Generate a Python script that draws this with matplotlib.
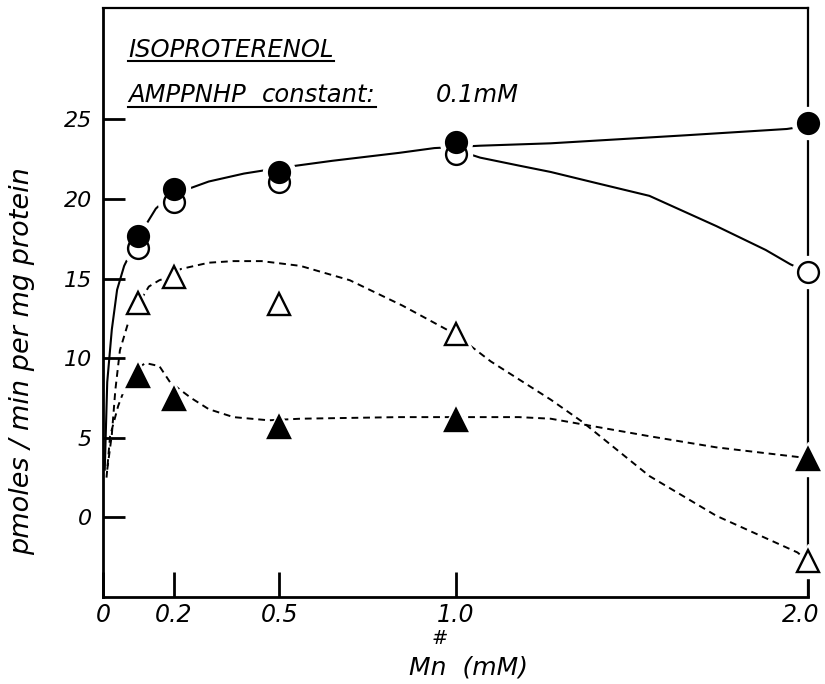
import numpy as np
import matplotlib
matplotlib.use("Agg")
import matplotlib.pyplot as plt
from matplotlib.lines import Line2D
from matplotlib.transforms import ScaledTranslation

plt.rcParams['font.family'] = ['DejaVu Sans']
plt.rcParams['font.style'] = 'italic'

# ---------------- data ----------------
conc = [0.1, 0.2, 0.5, 1.0, 2.0]                 # Mn (mM)
filled_circles = [17.7, 20.6, 21.7, 23.6, 24.8]
open_circles = [16.9, 19.8, 21.1, 22.8, 15.4]
open_triangles = [13.5, 15.1, 13.4, 11.5, -2.75]
filled_triangles = [8.9, 7.45, 5.7, 6.1, 3.7]

# hand-drawn fitted curves
fit_fc_x = [0.005, 0.012, 0.025, 0.04, 0.06, 0.1, 0.15, 0.2, 0.25, 0.3, 0.4, 0.5,
            0.65, 0.84, 0.94, 1.07, 1.27, 1.65, 1.94, 2.0]
fit_fc_y = [3.0, 8.5, 11.8, 14.3, 15.8, 17.6, 19.4, 20.4, 20.7, 21.1, 21.6, 21.95,
            22.4, 22.9, 23.2, 23.35, 23.5, 24.0, 24.4, 24.6]
fit_oc_x = [1.0, 1.07, 1.18, 1.27, 1.4, 1.55, 1.74, 1.88, 1.95, 2.0]
fit_oc_y = [23.1, 22.6, 22.1, 21.7, 21.0, 20.2, 18.3, 16.8, 15.9, 15.4]
fit_ot_x = [0.012, 0.025, 0.035, 0.048, 0.071, 0.1, 0.13, 0.16, 0.2, 0.22, 0.3, 0.37,
            0.45, 0.56, 0.7, 0.85, 1.0, 1.1, 1.27, 1.36, 1.55, 1.74, 1.97, 2.0]
fit_ot_y = [3.0, 5.2, 8.0, 10.5, 12.2, 13.4, 14.5, 14.9, 15.2, 15.6, 16.0, 16.1,
            16.1, 15.8, 14.9, 13.3, 11.5, 9.8, 7.4, 6.0, 2.6, 0.1, -2.2, -2.75]
fit_ft_x = [0.01, 0.02, 0.043, 0.06, 0.09, 0.12, 0.16, 0.19, 0.25, 0.3, 0.37, 0.47,
            0.56, 0.84, 1.0, 1.18, 1.27, 1.55, 1.74, 1.97, 2.0]
fit_ft_y = [2.5, 5.1, 7.0, 8.0, 9.2, 9.7, 9.5, 8.5, 7.5, 6.8, 6.3, 6.1,
            6.2, 6.3, 6.3, 6.3, 6.2, 5.1, 4.4, 3.8, 3.7]

xtick_vals = [0, 0.2, 0.5, 1.0, 2.0]
xtick_labels = ['0', '0.2', '0.5', '1.0', '2.0']
ytick_vals = [0, 5, 10, 15, 20, 25]
ytick_labels = ['0', '5', '10', '15', '20', '25']

# ---------------- figure ----------------
W, H = 825, 684
fig = plt.figure(figsize=(W / 100, H / 100), dpi=100)
ax = fig.add_axes([103 / W, 1 - 597 / H, 705 / W, 589 / H])
ax.set_xlim(0, 2.0)
ax.set_ylim(-5, 32)

for s in ['left', 'bottom']:
    ax.spines[s].set_linewidth(2.0)
for s in ['top', 'right']:
    ax.spines[s].set_linewidth(1.6)

dash = (0, (3.5, 2.5))
ax.plot(fit_fc_x, fit_fc_y, color='black', lw=1.5, zorder=2)
ax.plot(fit_oc_x, fit_oc_y, color='black', lw=1.5, zorder=2)
ax.plot(fit_ot_x, fit_ot_y, color='black', lw=1.4, ls=dash, zorder=2)
ax.plot(fit_ft_x, fit_ft_y, color='black', lw=1.4, ls=dash, zorder=2)

ms_c = 15
ms_t = 16.5
series = [
    (open_circles, 'o', ms_c, 'white'),
    (filled_circles, 'o', ms_c, 'black'),
    (open_triangles, '^', ms_t, 'white'),
    (filled_triangles, '^', ms_t, 'black'),
]
# white halos so that lines / right frame are broken around the symbols
for vals, mk, ms, fc in series:
    ax.plot(conc, vals, ls='none', marker=mk, ms=ms + 8, mfc='white', mec='white',
            clip_on=False, zorder=4)
z = 5
for vals, mk, ms, fc in series:
    ax.plot(conc, vals, ls='none', marker=mk, ms=ms, mfc=fc, mec='black', mew=1.7,
            clip_on=False, zorder=z)
    z += 1

ax.set_xticks(xtick_vals)
ax.set_xticklabels(xtick_labels, fontsize=17)
ax.set_yticks(ytick_vals)
ax.set_yticklabels(ytick_labels, fontsize=16)
ax.tick_params(axis='x', direction='in', length=18, width=2.0, pad=4)
ax.tick_params(axis='y', direction='in', length=16, width=2.0, pad=8)
# the last x label sits a little left of its tick, as in the original
last = ax.get_xticklabels()[-1]
last.set_transform(last.get_transform() + ScaledTranslation(-7 / 100, 0, fig.dpi_scale_trans))

ax.set_ylabel('pmoles / min per mg protein', fontsize=19.5, va='center')
ax.yaxis.set_label_coords(-0.115, 0.40)
ax.set_xlabel('Mn  (mM)', fontsize=18, va='center')
ax.xaxis.set_label_coords(0.518, -0.12)
fig.text(440 / W, 1 - 638 / H, '#', fontsize=14, ha='center', va='center')

# annotations
fs_a = 17.5
t1 = fig.text(128 / W, 1 - 57 / H, 'ISOPROTERENOL', fontsize=fs_a, va='baseline')
t2a = fig.text(128 / W, 1 - 102 / H, 'AMPPNHP', fontsize=fs_a, va='baseline')
t2b = fig.text(262 / W, 1 - 102 / H, 'constant:', fontsize=fs_a, va='baseline')
t3 = fig.text(436 / W, 1 - 102 / H, '0.1mM', fontsize=fs_a, va='baseline')

fig.canvas.draw()
r = fig.canvas.get_renderer()
b1 = t1.get_window_extent(r)
b2a = t2a.get_window_extent(r)
b2b = t2b.get_window_extent(r)
for x0, x1, yline in [(b1.x0, b1.x1, 61), (b2a.x0, b2b.x1, 107)]:
    fig.add_artist(Line2D([x0 / W, x1 / W], [1 - yline / H, 1 - yline / H],
                          transform=fig.transFigure, color='black', lw=1.5))

fig.savefig('out.png', dpi=100)
